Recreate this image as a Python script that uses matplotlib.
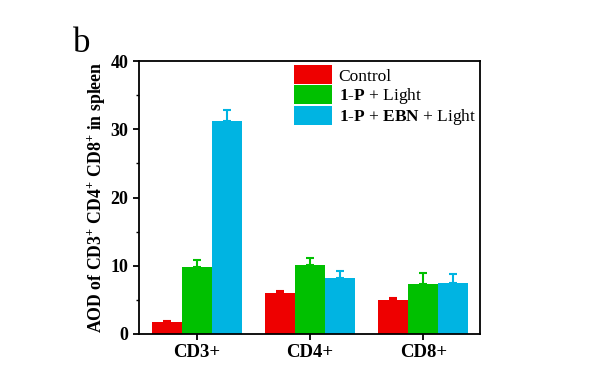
import numpy as np
import matplotlib
matplotlib.use("Agg")
import matplotlib.pyplot as plt
from matplotlib.ticker import MultipleLocator

plt.rcParams['font.family'] = ['Liberation Serif', 'DejaVu Serif']
plt.rcParams['mathtext.fontset'] = 'custom'
plt.rcParams['mathtext.rm'] = 'Liberation Serif'
plt.rcParams['mathtext.bf'] = 'Liberation Serif:bold'
plt.rcParams['mathtext.default'] = 'regular'

# data
categories = ['CD3+', 'CD4+', 'CD8+']
groups = ['Control', r'$\mathbf{1}$-$\mathbf{P}$ + Light',
          r'$\mathbf{1}$-$\mathbf{P}$ + $\mathbf{EBN}$ + Light']
control = [1.7, 6.0, 5.0]
control_err = [0.15, 0.25, 0.25]
p_light = [9.8, 10.15, 7.3]
p_light_err = [1.0, 0.95, 1.6]
p_ebn_light = [31.2, 8.2, 7.45]
p_ebn_light_err = [1.7, 1.0, 1.35]

colors = ['#ee0000', '#00c000', '#00b4e2']

fig = plt.figure(figsize=(6.11, 3.87), dpi=100)
ax = fig.add_axes([0.2275, 0.137, 0.558, 0.705])

x = np.arange(len(categories))
w = 0.265
series = [(control, control_err), (p_light, p_light_err), (p_ebn_light, p_ebn_light_err)]
for i, (vals, errs) in enumerate(series):
    ax.bar(x + (i - 1) * w, vals, w, color=colors[i], label=groups[i],
           yerr=[np.zeros(len(errs)), errs], ecolor=colors[i],
           error_kw=dict(capsize=3, elinewidth=1.5, capthick=1.5))

ax.set_xlim(-0.51, 2.5)
ax.set_ylim(0, 40)
ax.yaxis.set_major_locator(MultipleLocator(10))
ax.yaxis.set_minor_locator(MultipleLocator(5))
ax.set_xticks(x)
ax.set_xticklabels(categories, fontsize=13.5, fontweight='bold')
for lab in ax.get_yticklabels():
    lab.set_fontsize(13)
    lab.set_fontweight('bold')
ax.tick_params(axis='both', which='major', direction='out', length=4, width=1.3)
ax.tick_params(axis='y', which='minor', direction='out', length=2.5, width=1.0)
for s in ax.spines.values():
    s.set_linewidth(1.3)

ax.set_ylabel(r'AOD of CD3$^{+}$ CD4$^{+}$ CD8$^{+}$ in spleen',
              fontsize=12.8, fontweight='bold', labelpad=3)

ax.legend(loc='upper left', bbox_to_anchor=(0.435, 1.01), frameon=False,
          fontsize=12.5, handlelength=2.2, handleheight=1.3,
          labelspacing=0.0, handletextpad=0.35, borderaxespad=0)

fig.text(0.12, 0.865, 'b', fontsize=25)

fig.savefig('out.png', dpi=100)
